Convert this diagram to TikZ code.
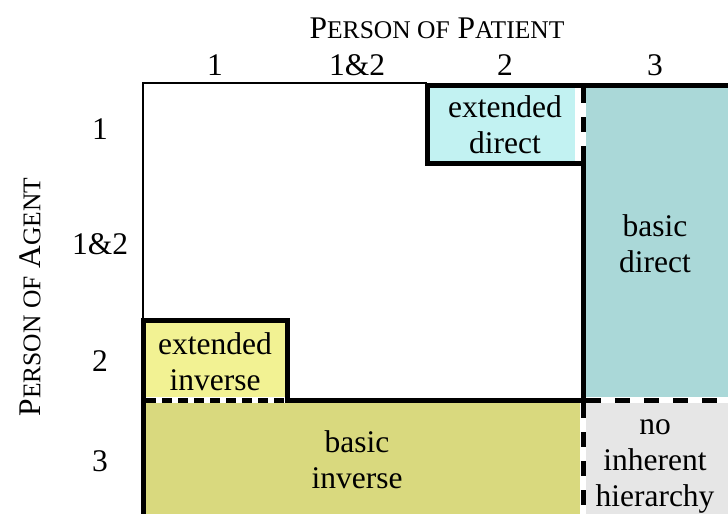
\documentclass[tikz,border=0pt]{standalone}
\usepackage{fontspec}
\setmainfont{Liberation Serif}
\usetikzlibrary{positioning}
\definecolor{extdirect}{HTML}{C2F2F2}
\definecolor{basicdirect}{HTML}{AAD8D8}
\definecolor{extinverse}{HTML}{F2F293}
\definecolor{basicinverse}{HTML}{D9D97E}
\definecolor{nohier}{HTML}{E6E6E6}
\newcommand{\smcap}[1]{{\fontsize{25.5}{28}\selectfont #1}}

\begin{document}
\begin{tikzpicture}[x=1pt,y=-1pt,
  lbl/.style={font=\fontsize{31.5}{36}\selectfont, inner sep=0pt, anchor=base},
  celltext/.style={font=\fontsize{31.5}{36}\selectfont, inner sep=0pt, align=center},
  thickline/.style={line width=5pt},
  dashline/.style={line width=5pt, dash pattern=on 15pt off 14pt},
  finedash/.style={line width=5pt, dash pattern=on 10pt off 6pt}]

\useasboundingbox (0,0) rectangle (728,514);

% Fundo das celulas
\fill[extdirect] (429,86) rectangle (575,161);
\fill[basicdirect] (586,86) rectangle (728,397);
\fill[extinverse] (145,322) rectangle (285,397);
\fill[basicinverse] (145,403) rectangle (580,514);
\fill[nohier] (586,403) rectangle (728,514);

% Moldura fina
\draw[line width=2pt] (427,83) -- (143,83) -- (143,322);

% Linha grossa em escada
\draw[thickline] (728,85) -- (427,85) -- (427,163) -- (583,163) -- (583,400)
  -- (287,400) -- (287,320) -- (143,320) -- (143,514);

% Linhas tracejadas
\draw[dashline] (583,88) -- (583,161);
\draw[dashline] (586,400) -- (728,400);
\draw[dashline] (583,403) -- (583,514);
\draw[finedash] (146,400) -- (285,400);

% Titulos
\node[lbl] (patient) at (437,38) {P\smcap{ERSON OF} P\smcap{ATIENT}};
\node[lbl, rotate=90, anchor=center] (agent) at (30,297) {P\smcap{ERSON OF} A\smcap{GENT}};

% Pessoa do paciente
\node[lbl] (pat1) at (215,75) {1};
\node[lbl] (pat12) at (357,75) {1\&2};
\node[lbl] (pat2) at (505,75) {2};
\node[lbl] (pat3) at (655,75) {3};

% Pessoa do agente
\node[lbl] (ag1) at (100,139) {1};
\node[lbl] (ag12) at (100,254) {1\&2};
\node[lbl] (ag2) at (100,371) {2};
\node[lbl] (ag3) at (100,471) {3};

% Textos das celulas
\node[celltext] (extdir) at (505,125) {extended\\direct};
\node[celltext] (basdir) at (655,244) {basic\\direct};
\node[celltext] (extinv) at (215,362) {extended\\inverse};
\node[celltext] (basinv) at (357,460) {basic\\inverse};
\node[celltext] (nohr) at (655,466) {no\\inherent\\hierarchy};

\end{tikzpicture}
\end{document}
